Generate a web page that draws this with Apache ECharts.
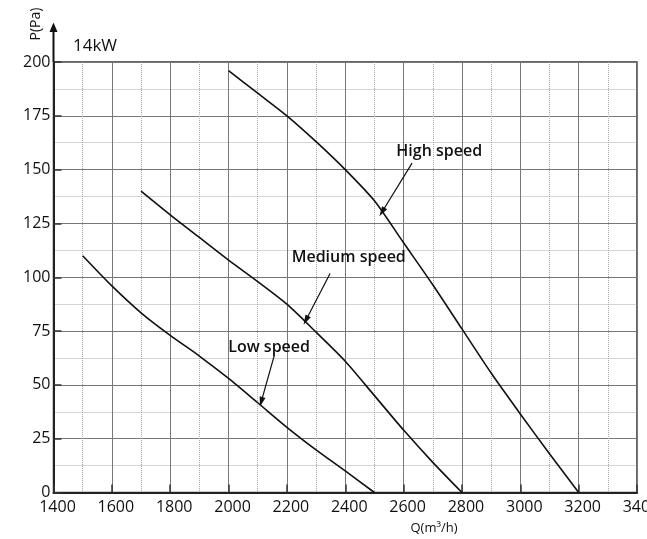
<!DOCTYPE html>
<html><head><meta charset="utf-8">
<script src="https://cdn.jsdelivr.net/npm/echarts@6/dist/echarts.min.js"></script>
<style>html,body{margin:0;padding:0;background:#fff}#c{width:647px;height:539px}</style>
</head><body><div id="c"></div>
<script>
// Axis definitions
const qMin = 1400, qMax = 3400, qStep = 200;
const pMin = 0, pMax = 200, pStep = 25;

// Curves (Q in m3/h, P in Pa)
const highQ = [2000, 2100, 2200, 2300, 2400, 2500, 2600, 2700, 2800, 2900, 3000, 3100, 3200];
const highP = [196, 185.5, 175, 163, 150, 135.5, 116, 96.5, 76, 55.5, 36.5, 18, 0];
const medQ = [1700, 1800, 1900, 2000, 2100, 2200, 2300, 2400, 2500, 2600, 2700, 2800];
const medP = [140, 129, 118.5, 108, 98, 87.5, 74.5, 61, 45, 29, 14, 0];
const lowQ = [1500, 1600, 1700, 1800, 1900, 2000, 2100, 2200, 2300, 2400, 2500];
const lowP = [110, 96, 83.5, 73, 63.4, 53, 41.7, 30.3, 19.8, 10, 0];

// Annotation labels and arrows (data coordinates)
const labelNames = ['High speed', 'Medium speed', 'Low speed'];
const labelQ = [2722, 2412, 2139];
const labelP = [158.4, 109.3, 67.5];
const arrowFromQ = [2629, 2348, 2157];
const arrowFromP = [153, 101.7, 63.8];
const arrowToQ = [2526, 2265, 2112];
const arrowToP = [130.3, 80, 42.1];

const zip = (a, b) => a.map((v, i) => [v, b[i]]);
const FONT = "'Open Sans', 'Noto Sans', sans-serif";

function curve(name, q, p, k) {
  return {
    name, type: 'line', data: zip(q, p), smooth: 0.25, showSymbol: false,
    lineStyle: { color: '#111', width: 1.6 }, silent: true,
    markPoint: {
      symbol: 'circle', symbolSize: 0, silent: true, animation: false,
      label: { show: true, position: 'inside', formatter: '{b}', color: '#111',
        fontSize: 16, fontWeight: 600, fontFamily: FONT },
      data: [{ name: labelNames[k], coord: [labelQ[k], labelP[k]] }]
    },
    markLine: {
      silent: true, animation: false, symbol: ['none', 'triangle'],
      label: { show: false },
      lineStyle: { color: '#111', width: 1.2, type: 'solid' },
      data: [[
        { coord: [arrowFromQ[k], arrowFromP[k]], symbol: 'none' },
        { coord: [arrowToQ[k], arrowToP[k]], symbol: 'triangle', symbolSize: [6, 10] }
      ]]
    }
  };
}

const chart = echarts.init(document.getElementById('c'), null, { renderer: 'canvas' });
const option = {
  animation: false,
  backgroundColor: '#fff',
  grid: { left: 53.5, right: 10, top: 62, bottom: 46.5, containLabel: false, outerBoundsMode: 'none',
    show: true, borderColor: '#333', borderWidth: 1.5 },
  xAxis: {
    type: 'value', min: qMin, max: qMax, interval: qStep,
    axisLine: { show: true, onZero: false, lineStyle: { color: '#222', width: 2 } },
    axisTick: { show: true, inside: true, length: 8, lineStyle: { color: '#333', width: 1.5 } },
    axisLabel: { color: '#111', fontSize: 16, fontFamily: FONT, margin: 7, showMaxLabel: true,
      padding: [0, 0, 0, 8], formatter: v => String(v) },
    splitLine: { show: true, lineStyle: { color: '#777', width: 1 } },
    minorTick: { show: false, splitNumber: 2 },
    minorSplitLine: { show: true, lineStyle: { color: '#aaa', type: 'dotted', width: 1 } }
  },
  yAxis: {
    type: 'value', min: pMin, max: pMax, interval: pStep,
    axisLine: { show: true, onZero: false, lineStyle: { color: '#222', width: 2 } },
    axisTick: { show: true, inside: true, length: 8, lineStyle: { color: '#333', width: 1.5 } },
    axisLabel: { color: '#111', fontSize: 16, fontFamily: FONT, margin: 3, formatter: v => String(v) },
    splitLine: { show: true, lineStyle: { color: '#777', width: 1 } },
    minorTick: { show: false, splitNumber: 2 },
    minorSplitLine: { show: true, lineStyle: { color: '#aaa', type: 'dotted', width: 1 } }
  },
  series: [
    curve('High speed', highQ, highP, 0),
    curve('Medium speed', medQ, medP, 1),
    curve('Low speed', lowQ, lowP, 2)
  ]
};
chart.setOption(option);

// Decorations: y-axis arrow and titles
const axisTopPx = chart.convertToPixel({ gridIndex: 0 }, [qMin, pMax]);
chart.setOption({
  graphic: [
    { type: 'line', silent: true, shape: { x1: axisTopPx[0], y1: axisTopPx[1], x2: axisTopPx[0], y2: 30 },
      style: { stroke: '#111', lineWidth: 2 } },
    { type: 'polygon', silent: true,
      shape: { points: [[axisTopPx[0], 22.5], [axisTopPx[0] - 4, 32], [axisTopPx[0] + 4, 32]] },
      style: { fill: '#111' } },
    { type: 'text', x: 36, y: 24, rotation: Math.PI / 2, silent: true,
      style: { text: 'P(Pa)', fill: '#111', font: "14px " + FONT,
        textAlign: 'center', textVerticalAlign: 'middle', align: 'center', verticalAlign: 'middle' } },
    { type: 'text', x: 95, y: 46, silent: true,
      style: { text: '14kW', fill: '#111', font: "17px " + FONT,
        textAlign: 'center', textVerticalAlign: 'middle', align: 'center', verticalAlign: 'middle' } },
    { type: 'text', x: 434, y: 528, silent: true,
      style: { text: 'Q(m³/h)', fill: '#111', font: "13px " + FONT,
        textAlign: 'center', textVerticalAlign: 'middle', align: 'center', verticalAlign: 'middle' } }
  ]
});
</script>
</body></html>
